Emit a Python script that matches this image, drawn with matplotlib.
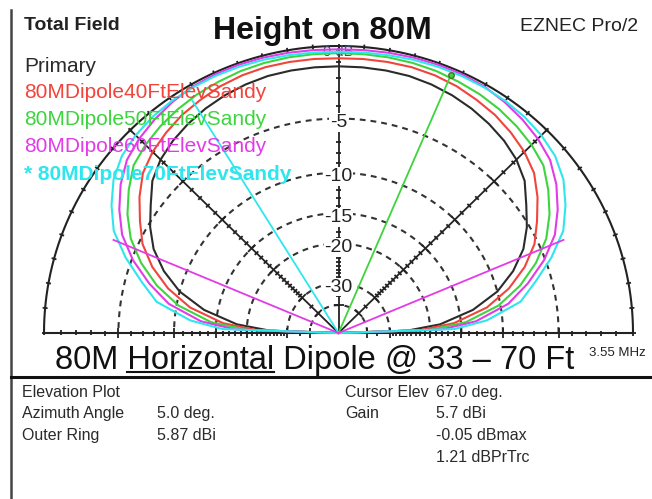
import numpy as np
import matplotlib.pyplot as plt
from matplotlib.collections import LineCollection
from matplotlib.lines import Line2D

plt.rcParams['font.family'] = ['Liberation Sans', 'DejaVu Sans']

# picture size and plot geometry (pixels)
W, H = 652, 499
CX, CY = 338.5, 333
RX, RY = 294.5, 287

# elevation angles (deg) and trace gains in dB relative to the outer ring
elev = np.array([0, 2, 5, 10, 15, 20, 25, 30, 35, 40, 45, 50, 55, 60, 65, 70, 75, 80, 85, 90])
primary_db = [-99, -25, -18.2, -13.2, -10.0, -7.9, -6.3, -5.2, -4.3, -3.3, -2.7, -2.3, -2.0, -1.75, -1.55, -1.4, -1.3, -1.27, -1.26, -1.26]
ft40_db = [-99, -22, -16, -11.5, -8.8, -6.8, -5.3, -4.3, -3.3, -2.45, -1.95, -1.6, -1.3, -1.1, -0.9, -0.78, -0.72, -0.72, -0.73, -0.75]
ft50_db = [-99, -20, -14.3, -10.2, -7.7, -5.8, -4.3, -3.25, -2.4, -1.65, -1.3, -1.05, -0.85, -0.7, -0.6, -0.5, -0.45, -0.43, -0.43, -0.43]
ft60_db = [-99, -18, -13, -9.2, -7.0, -5.1, -3.6, -2.6, -1.75, -1.1, -0.75, -0.5, -0.3, -0.15, -0.1, -0.1, -0.12, -0.15, -0.18, -0.2]
ft70_db = [-99, -16, -11.7, -8.0, -6.3, -4.5, -2.95, -2.0, -1.2, -0.7, -0.45, -0.3, -0.22, -0.2, -0.2, -0.22, -0.25, -0.3, -0.33, -0.35]

trace_names = ['Primary', '80MDipole40FtElevSandy', '80MDipole50FtElevSandy',
               '80MDipole60FtElevSandy', '* 80MDipole70FtElevSandy']
trace_colors = ['#2b2b2b', '#f0443c', '#3ed43e', '#e23be8', '#2ee6ee']
traces = [primary_db, ft40_db, ft50_db, ft60_db, ft70_db]

ring_db = [-5, -10, -15, -20, -30, -40]
ring_labels = ['-5', '-10', '-15', '-20', '-30', '']

cursor_elev = 67.0
cyan_line_ang = 121.5
magenta_line_ang = 23.0

info_left = [('Elevation Plot', ''), ('Azimuth Angle', '5.0 deg.'), ('Outer Ring', '5.87 dBi')]
info_right = [('Cursor Elev', '67.0 deg.'), ('Gain', '5.7 dBi'), ('', '-0.05 dBmax'), ('', '1.21 dBPrTrc')]


def arrl(db):
    # ARRL log scale, outer ring = 0 dB
    return 0.89 ** (-np.asarray(db, dtype=float) / 2)


def polar(ang, r):
    a = np.radians(ang)
    return r * np.cos(a), r * np.sin(a)


def fxy(x, y):
    return x / W, 1 - y / H


fig = plt.figure(figsize=(W / 100, H / 100), dpi=100)
ax = fig.add_axes([0, 0, 1, 1])
ax.set_xlim(-CX / RX, (W - CX) / RX)
ax.set_ylim(-(H - CY) / RY, CY / RY)
ax.axis('off')

# dashed rings
th = np.linspace(0, 180, 361)
for d in ring_db:
    x, y = polar(th, arrl(d))
    ax.plot(x, y, color='#333333', lw=1.5, dashes=(2.8, 2.4), zorder=1)

# outer ring, baseline and radial lines
x, y = polar(th, 1.0)
ax.plot(x, y, color='#222222', lw=1.5, zorder=2)
ax.plot([-1, 1], [0, 0], color='#222222', lw=1.5, zorder=2)
for a in [45, 90, 135]:
    x, y = polar(a, 1.0)
    ax.plot([0, x], [0, y], color='#222222', lw=1.3, zorder=2)

# tick marks
segs = []
tick_db = list(range(0, -31, -1)) + [-35, -40]
for a in [0, 45, 90, 135, 180]:
    for d in tick_db:
        r = arrl(d)
        px, py = polar(a, r)
        L = 5 if d in ring_db else 2.5
        dx = -np.sin(np.radians(a)) * L / RX
        dy = np.cos(np.radians(a)) * L / RY
        segs.append([(px - dx, py - dy), (px + dx, py + dy)])
for a in range(0, 181, 5):
    px, py = polar(a, 1.0)
    dx = np.cos(np.radians(a)) * 2.5 / RX
    dy = np.sin(np.radians(a)) * 2.5 / RY
    segs.append([(px - dx, py - dy), (px + dx, py + dy)])
ax.add_collection(LineCollection(segs, colors='#222222', linewidths=1.3, zorder=2))

# ring labels
for d, lab in zip(ring_db, ring_labels):
    if lab:
        ax.text(0, arrl(d) - 4 / RY, lab, ha='center', va='center', fontsize=14,
                color='#222222', zorder=3,
                bbox=dict(facecolor='white', edgecolor='none', pad=0.5))
ax.text(0, 1 - 6 / RY, '0 dB', ha='center', va='center', fontsize=10.5,
        color='#3a4a6a', zorder=3)

# traces
for vals, col in zip(traces, trace_colors):
    vals = np.asarray(vals)
    ang = np.concatenate([elev, 180 - elev[::-1][1:]])
    dbs = np.concatenate([vals, vals[::-1][1:]])
    x, y = polar(ang, arrl(dbs))
    ax.plot(x, y, color=col, lw=1.5, zorder=4)

# cursor / beamwidth lines
gx, gy = polar(cursor_elev, 0.975)
ax.plot([0, gx], [0, gy], color='#3ed43e', lw=1.3, zorder=5)
ax.plot(gx, gy, 'o', color='#3ed43e', ms=4, mec='#556b2f', zorder=6)
cx_, cy_ = polar(cyan_line_ang, 0.95)
ax.plot([0, cx_], [0, cy_], color='#2ee6ee', lw=1.3, zorder=5)
for a in [magenta_line_ang, 180 - magenta_line_ang]:
    mx, my = polar(a, 0.83)
    ax.plot([0, mx], [0, my], color='#e23be8', lw=1.3, zorder=5)

# header texts
fig.text(*fxy(24, 30), 'Total Field', fontsize=14, fontweight='bold', color='#222222', va='baseline')
fig.text(*fxy(213, 39), 'Height on 80M', fontsize=23, fontweight='bold', color='#111111', va='baseline')
fig.text(*fxy(520, 31), 'EZNEC Pro/2', fontsize=14, color='#222222', va='baseline')

legend_base = [71.5, 98, 125, 152, 180]
for name, col, yb in zip(trace_names, trace_colors, legend_base):
    fw = 'bold' if name.startswith('*') else 'normal'
    fig.text(*fxy(24, yb), name, fontsize=15, color=col, fontweight=fw, va='baseline', zorder=7)

# bottom title with underlined word
title = '80M Horizontal Dipole @ 33 \u2013 70 Ft'
tx, tyb = 55, 369
tsize = 23.5
fig.text(*fxy(tx, tyb), title, fontsize=tsize, color='#111111', va='baseline')
rend = fig.canvas.get_renderer()


def text_width(s):
    t = fig.text(0, 0, s, fontsize=tsize)
    w = t.get_window_extent(rend).width
    t.remove()
    return w


w_full = text_width('80M Horizontal')
w_word = text_width('Horizontal')
u0 = tx + w_full - w_word
u1 = tx + w_full
fig.add_artist(Line2D([u0 / W, u1 / W], [1 - 372 / H] * 2, transform=fig.transFigure,
                      color='#111111', lw=1.5))
fig.text(*fxy(589, 356), '3.55 MHz', fontsize=9.5, color='#222222', va='baseline')

# frame lines
fig.add_artist(Line2D([11 / W, 11 / W], [1 - 10 / H, 0], transform=fig.transFigure,
                      color='#444444', lw=1.8))
fig.add_artist(Line2D([11 / W, 1], [1 - 377 / H] * 2, transform=fig.transFigure,
                      color='#111111', lw=2.2))

# info table
rows = [397, 418, 440, 462, 485]
fs = 11.5
for (lab, val), yb in zip(info_left, rows):
    fig.text(*fxy(22, yb), lab, fontsize=fs, color='#2a2a2a', va='baseline')
    if val:
        fig.text(*fxy(157, yb), val, fontsize=fs, color='#2a2a2a', va='baseline')
for (lab, val), yb in zip(info_right, rows):
    if lab:
        fig.text(*fxy(345, yb), lab, fontsize=fs, color='#2a2a2a', va='baseline')
    fig.text(*fxy(436, yb), val, fontsize=fs, color='#2a2a2a', va='baseline')

fig.savefig('out.png', dpi=100, facecolor='white')
